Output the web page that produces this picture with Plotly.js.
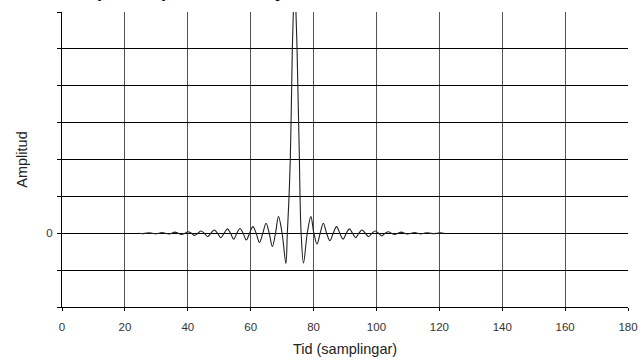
<!DOCTYPE html>
<html>
<head>
<meta charset="utf-8">
<script src="https://cdn.plot.ly/plotly-3.0.1.min.js"></script>
<style>html,body{margin:0;padding:0;background:#fff}#chart{width:643px;height:363px}</style>
</head>
<body>
<div id="chart"></div>
<script>
// Sample index (x) and amplitude (y)
const sampleX = [
  24.4, 25.5, 26.55, 27.6, 28.65, 29.7, 30.75, 31.8, 32.85, 33.9,
  34.9, 35.9, 36.95, 38.0, 39.05, 40.1, 41.15, 42.2, 43.2, 44.2,
  45.25, 46.3, 47.35, 48.4, 49.45, 50.5, 51.55, 52.6, 53.6, 54.6,
  55.6, 56.6, 57.6, 58.6, 59.65, 60.7, 61.75, 62.8, 63.85, 64.9,
  65.9, 66.9, 67.9, 68.85, 70.0, 71.2, 71.66, 72.2, 72.6, 72.84,
  73.05, 73.25, 73.57, 74.0, 74.4, 74.75, 75.0, 75.25, 75.5, 75.7,
  76.05, 76.8, 78.0, 79.15, 80.1, 81.1, 82.1, 83.1, 84.15, 85.2,
  86.25, 87.3, 88.35, 89.4, 90.4, 91.4, 92.4, 93.4, 94.4, 95.4,
  96.45, 97.5, 98.55, 99.6, 100.65, 101.7, 102.75, 103.8, 104.8, 105.8,
  106.85, 107.9, 108.95, 110.0, 111.05, 112.1, 113.1, 114.1, 115.15, 116.2,
  117.25, 118.3, 119.35, 120.4, 121.5
];
const amplitude = [
  0, -0.01, 0, 0.01, 0, -0.015, 0, 0.02, 0, -0.02,
  0, 0.03, 0, -0.03, 0, 0.04, 0, -0.06, 0, 0.06,
  0, -0.09, 0, 0.09, 0, -0.12, 0, 0.12, 0, -0.16,
  0, 0.13, 0, -0.18, 0, 0.18, 0, -0.25, 0, 0.27,
  0, -0.36, 0, 0.45, 0, -0.82, 0, 1, 2, 3,
  4, 5, 6, 8, 6, 5, 4, 3, 2, 1,
  0, -0.81, 0, 0.45, 0, -0.29, 0, 0.27, 0, -0.2,
  0, 0.18, 0, -0.16, 0, 0.12, 0, -0.12, 0, 0.09,
  0, -0.09, 0, 0.06, 0, -0.07, 0, 0.04, 0, -0.03,
  0, 0.03, 0, -0.02, 0, 0.02, 0, -0.02, 0, 0.015,
  0, -0.01, 0, 0.01, 0
];
const yTickVals = [-2, -1, 0, 1, 2, 3, 4, 5, 6];
const yTickText = ['', '', '0', '', '', '', '', '', ''];
const xTickVals = [0, 20, 40, 60, 80, 100, 120, 140, 160, 180];
const titleText = 'Impulsrespons för ett system';

const font = 'Liberation Sans, Arial, sans-serif';
const narrow = 'Liberation Sans Narrow, Liberation Sans, Arial, sans-serif';
const trace = {
  x: sampleX, y: amplitude, type: 'scatter', mode: 'lines',
  line: {color: '#222', width: 1.1, shape: 'spline', smoothing: 1, simplify: false},
  hoverinfo: 'none'
};
const layout = {
  width: 643, height: 363,
  margin: {l: 62, r: 15, t: 12, b: 56},
  paper_bgcolor: '#fff', plot_bgcolor: '#fff',
  showlegend: false,
  font: {family: font, color: '#222'},
  xaxis: {
    range: [0, 180], tickvals: xTickVals, ticks: 'outside', ticklen: 3, tickcolor: '#000',
    ticklabelstandoff: 6,
    showgrid: true, gridcolor: '#555', gridwidth: 1, zeroline: false,
    showline: true, linecolor: '#000', linewidth: 1,
    tickfont: {size: 11.5, color: '#333', family: font},
    title: {text: 'Tid (samplingar)', font: {size: 14.5, color: '#222', family: narrow}, standoff: 12},
    fixedrange: true
  },
  yaxis: {
    range: [-2, 6], tickvals: yTickVals, ticktext: yTickText, ticks: 'outside', ticklen: 4, tickcolor: '#000',
    ticklabelstandoff: 2,
    showgrid: true, gridcolor: '#000', gridwidth: 1, zeroline: false,
    showline: true, linecolor: '#000', linewidth: 1,
    tickfont: {size: 11.5, color: '#333', family: font},
    title: {text: 'Amplitud', font: {size: 14.5, color: '#222', family: narrow}, standoff: 15},
    fixedrange: true
  },
  annotations: [{
    text: '<b>' + titleText + '</b>', xref: 'paper', yref: 'paper', x: 0, y: 1,
    xanchor: 'left', yanchor: 'bottom', xshift: 12, yshift: 8.5, showarrow: false,
    font: {size: 18, color: '#000', family: font}
  }]
};
Plotly.newPlot('chart', [trace], layout, {staticPlot: true, displayModeBar: false});
</script>
</body>
</html>
